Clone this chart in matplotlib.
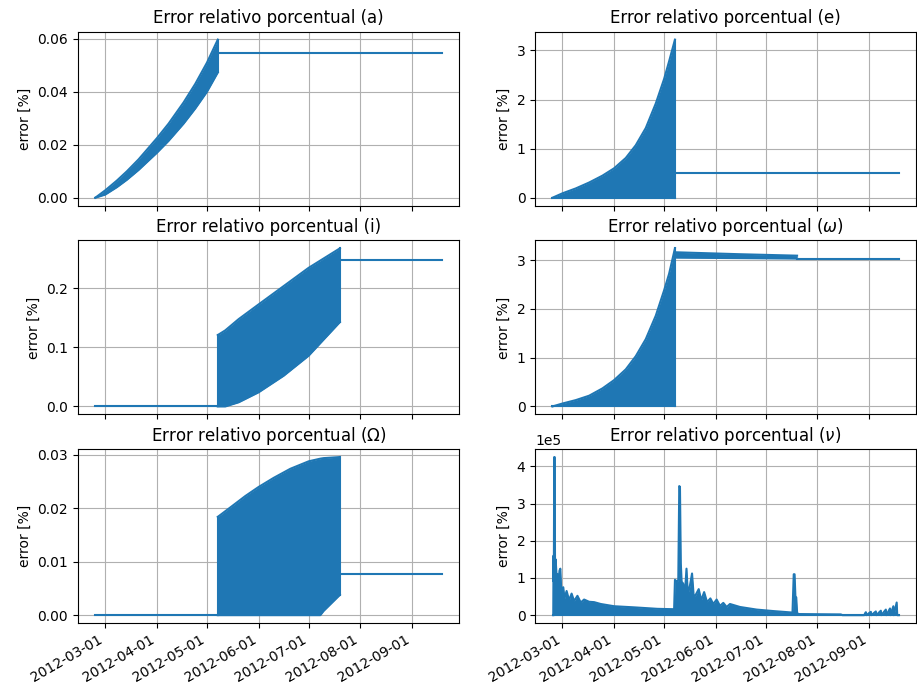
import numpy as np
import pandas as pd
import matplotlib
matplotlib.use('Agg')
import matplotlib.pyplot as plt
import matplotlib.dates as mdates
from matplotlib.ticker import MultipleLocator

#- Values (envelopes of the densely oscillating series)
t_start = '2012-02-24'
t_jump = '2012-05-07 12:00'
t_end2 = '2012-07-19 18:00'
t_stop = '2012-09-18 18:00'

# (a) semi-major axis
a_dates = ['2012-02-24', '2012-03-01', '2012-03-08', '2012-03-14', '2012-03-21',
           '2012-04-01', '2012-04-08', '2012-04-17', '2012-04-24', '2012-05-01',
           '2012-05-07 12:00']
a_upper = [0.0, 0.0028, 0.0065, 0.0100, 0.0145, 0.0225, 0.0280, 0.0360,
           0.0430, 0.0510, 0.0597]
a_lower = [0.0, 0.0012, 0.0040, 0.0068, 0.0105, 0.0170, 0.0215, 0.0280,
           0.0337, 0.0400, 0.0473]
a_after = 0.0547

# (e) eccentricity
e_dates = ['2012-02-24', '2012-03-01', '2012-03-09', '2012-03-17', '2012-03-25',
           '2012-04-01', '2012-04-08', '2012-04-14', '2012-04-20', '2012-04-26',
           '2012-05-01', '2012-05-04', '2012-05-07 12:00']
e_upper = [0.0, 0.09, 0.19, 0.31, 0.45, 0.60, 0.81, 1.07, 1.42, 1.92,
           2.42, 2.78, 3.22]
e_after = 0.50

# (i) inclination
i_dates = ['2012-05-07 12:00', '2012-05-12', '2012-05-20', '2012-06-01',
           '2012-06-16', '2012-07-01', '2012-07-19 18:00']
i_upper = [0.121, 0.129, 0.148, 0.173, 0.204, 0.235, 0.268]
i_lower = [0.0, 0.0, 0.007, 0.024, 0.052, 0.086, 0.143]
i_after = 0.249

# (omega) argument of perigee
w_upper = [0.0, 0.06, 0.13, 0.22, 0.37, 0.54, 0.76, 1.03, 1.38, 1.86,
           2.38, 2.72, 3.24]
w_band_dates = ['2012-05-07 12:00', '2012-06-15', '2012-07-19 18:00']
w_band_upper = [3.16, 3.12, 3.09]
w_band_lower = [3.05, 3.04, 3.03]
w_after = 3.03

# (Omega) RAAN
O_dates = ['2012-05-07 12:00', '2012-05-16', '2012-05-24', '2012-06-01',
           '2012-06-10', '2012-06-20', '2012-07-01', '2012-07-08', '2012-07-10',
           '2012-07-19 18:00']
O_upper = [0.0184, 0.0204, 0.0223, 0.0240, 0.0257, 0.0274, 0.0288, 0.0293,
           0.0294, 0.0296]
O_lower = [0.0, 0.0, 0.0, 0.0, 0.0, 0.0, 0.0, 0.0, 0.0008, 0.0038]
O_after = 0.0077

# (nu) true anomaly, envelope in units of 1e5 %
nu_dates = ['2012-02-24 12:00', '2012-02-24 16:00', '2012-02-24 20:00',
            '2012-02-25 02:00', '2012-02-25 08:00', '2012-02-25 14:00',
            '2012-02-25 22:00', '2012-02-26 12:00', '2012-02-27 00:00',
            '2012-02-27 18:00', '2012-02-28 06:00', '2012-02-28 18:00',
            '2012-02-29 06:00', '2012-03-01 12:00', '2012-03-02 06:00',
            '2012-03-03 12:00', '2012-03-05 00:00', '2012-03-06 12:00',
            '2012-03-08 00:00', '2012-03-10 00:00', '2012-03-12 00:00',
            '2012-03-14 00:00', '2012-03-17 00:00', '2012-03-20 00:00',
            '2012-03-24 00:00', '2012-03-28 00:00', '2012-04-01 00:00',
            '2012-04-13 00:00', '2012-04-20 00:00', '2012-04-27 00:00',
            '2012-05-07 00:00', '2012-05-07 12:00', '2012-05-08 18:00',
            '2012-05-09 12:00', '2012-05-10 02:00', '2012-05-10 12:00',
            '2012-05-11 00:00', '2012-05-11 12:00', '2012-05-12 10:00',
            '2012-05-13 12:00', '2012-05-14 10:00', '2012-05-15 06:00',
            '2012-05-16 12:00', '2012-05-17 18:00', '2012-05-18 18:00',
            '2012-05-20 00:00', '2012-05-21 18:00', '2012-05-23 06:00',
            '2012-05-25 00:00', '2012-05-26 18:00', '2012-05-28 18:00',
            '2012-05-30 12:00', '2012-06-01 12:00', '2012-06-03 12:00',
            '2012-06-05 12:00', '2012-06-07 12:00', '2012-06-09 12:00',
            '2012-06-15 12:00', '2012-06-25 12:00', '2012-07-05 12:00',
            '2012-07-17 00:00', '2012-07-17 18:00', '2012-07-18 06:00',
            '2012-07-18 18:00', '2012-07-19 06:00', '2012-07-19 18:00',
            '2012-07-20 06:00', '2012-08-15 00:00', '2012-08-16 00:00',
            '2012-08-29 00:00', '2012-08-30 00:00', '2012-08-30 06:00',
            '2012-09-02 00:00', '2012-09-02 06:00', '2012-09-05 00:00',
            '2012-09-05 06:00', '2012-09-08 00:00', '2012-09-08 06:00',
            '2012-09-11 00:00', '2012-09-11 06:00', '2012-09-13 12:00',
            '2012-09-13 18:00', '2012-09-15 12:00', '2012-09-15 18:00',
            '2012-09-17 12:00', '2012-09-17 20:00', '2012-09-18 18:00']
nu_vals = [0.0, 1.60, 0.90,
           4.25, 4.25, 1.10,
           1.50, 1.05, 1.10,
           0.95, 1.20, 1.25,
           0.70, 0.75, 0.45,
           0.65, 0.40, 0.58,
           0.38, 0.52, 0.34,
           0.42, 0.36, 0.35,
           0.30, 0.27, 0.24,
           0.21, 0.19, 0.17,
           0.16, 0.95, 0.90,
           0.95, 3.47, 3.45,
           1.40, 0.90, 0.85,
           0.60, 1.25, 0.55,
           0.80, 1.12, 0.50,
           0.55, 0.70, 0.40,
           0.62, 0.35, 0.45,
           0.30, 0.42, 0.25,
           0.33, 0.22, 0.30,
           0.22, 0.15, 0.11,
           0.07, 1.10, 1.10,
           0.50, 0.48, 0.08,
           0.03, 0.02, 0.0,
           0.0, 0.08, 0.0,
           0.09, 0.0, 0.10,
           0.0, 0.12, 0.0,
           0.15, 0.0, 0.18,
           0.0, 0.24, 0.0,
           0.34, 0.0, 0.0]

blue = '#1f77b4'
lw = 1.5


def todt(s):
    return pd.to_datetime(s, format='ISO8601')


def band(ax, dates, low, high):
    d = todt(dates)
    ax.fill_between(d, low, high, color=blue, linewidth=0)
    ax.plot(d, high, color=blue, lw=lw)
    ax.plot(d, low, color=blue, lw=lw)


def vline(ax, date, y0, y1):
    ax.plot(todt([date, date]), [y0, y1], color=blue, lw=lw)


def flat(ax, d0, d1, val):
    ax.plot(todt([d0, d1]), [val, val], color=blue, lw=lw)


fig, axs = plt.subplots(3, 2, sharex=True, figsize=(9.17, 6.9), dpi=100)

# (a)
ax = axs[0, 0]
band(ax, a_dates, a_lower, a_upper)
vline(ax, t_jump, a_lower[-1], a_upper[-1])
flat(ax, t_jump, t_stop, a_after)
ax.set_title('Error relativo porcentual (a)')

# (e)
ax = axs[0, 1]
band(ax, e_dates, [0.0] * len(e_dates), e_upper)
vline(ax, t_jump, 0.0, e_upper[-1])
flat(ax, t_jump, t_stop, e_after)
ax.set_title('Error relativo porcentual (e)')

# (i)
ax = axs[1, 0]
flat(ax, t_start, t_jump, 0.0)
band(ax, i_dates, i_lower, i_upper)
vline(ax, i_dates[0], i_lower[0], i_upper[0])
vline(ax, i_dates[-1], i_lower[-1], i_upper[-1])
flat(ax, t_end2, t_stop, i_after)
ax.yaxis.set_major_locator(MultipleLocator(0.1))
ax.set_title('Error relativo porcentual (i)')

# (omega)
ax = axs[1, 1]
band(ax, e_dates, [0.0] * len(e_dates), w_upper)
vline(ax, t_jump, 0.0, w_upper[-1])
band(ax, w_band_dates, w_band_lower, w_band_upper)
flat(ax, t_end2, t_stop, w_after)
ax.set_title(r'Error relativo porcentual ($\omega$)')

# (Omega)
ax = axs[2, 0]
flat(ax, t_start, t_jump, 0.0)
band(ax, O_dates, O_lower, O_upper)
vline(ax, O_dates[0], O_lower[0], O_upper[0])
vline(ax, O_dates[-1], O_lower[-1], O_upper[-1])
flat(ax, t_end2, t_stop, O_after)
ax.set_title(r'Error relativo porcentual ($\Omega$)')

# (nu)
ax = axs[2, 1]
nu = np.array(nu_vals) * 1e5
d = todt(nu_dates)
ax.fill_between(d, 0, nu, color=blue, linewidth=0)
ax.plot(d, nu, color=blue, lw=lw)
flat(ax, nu_dates[0], t_stop, 0.0)
ax.ticklabel_format(style='sci', axis='y', scilimits=(0, 0))
ax.set_title(r'Error relativo porcentual ($\nu$)')

for ax in axs.flat:
    ax.set_ylabel('error [%]')
    ax.set_axisbelow(True)
    ax.grid(True)
    ax.xaxis.set_major_locator(mdates.MonthLocator())
    ax.xaxis.set_major_formatter(mdates.DateFormatter('%Y-%m-%d'))

fig.autofmt_xdate()
plt.subplots_adjust(left=0.085, right=0.999, top=0.954, bottom=0.097,
                    wspace=0.2, hspace=0.2)

plt.savefig('out.png', dpi=100)
